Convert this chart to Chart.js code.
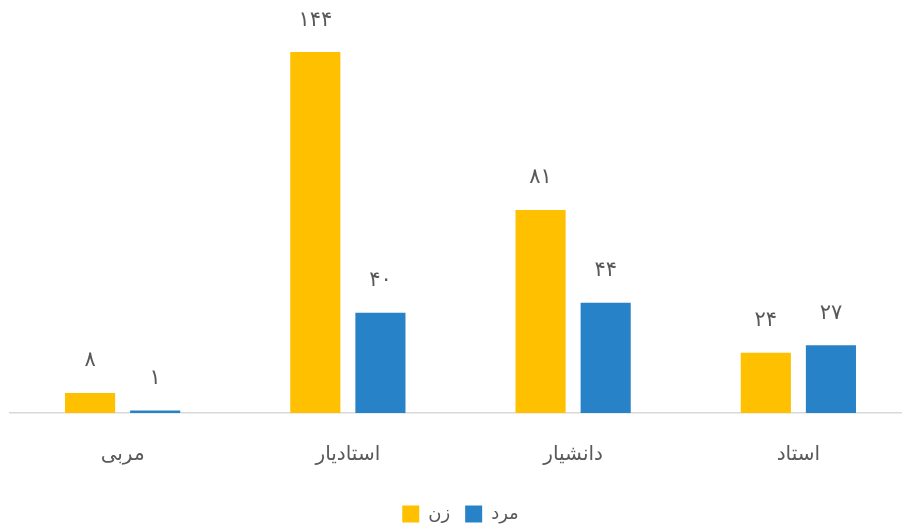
<!DOCTYPE html>
<html>
<head>
<meta charset="utf-8">
<script src="https://cdn.jsdelivr.net/npm/chart.js@4"></script>
<style>
html,body{margin:0;padding:0;overflow:hidden;background:#fff;}
#wrap{width:911px;height:529px;position:relative;}
</style>
</head>
<body>
<div id="wrap"><canvas id="c"></canvas></div>
<script>
const categories = ['مربی', 'استادیار', 'دانشیار', 'استاد'];
const seriesNames = ['زن', 'مرد'];
const womenValues = [8, 144, 81, 24];
const menValues = [1, 40, 44, 27];
const yMax = 160;

const toPersian = n => String(n).replace(/\d/g, d => '۰۱۲۳۴۵۶۷۸۹'[d]);

const FONT = "'DejaVu Sans', 'Noto Sans', sans-serif";
const TEXT = '#595959';

const valueLabels = {
  id: 'valueLabels',
  afterDatasetsDraw(chart) {
    const ctx = chart.ctx;
    ctx.save();
    ctx.font = '21px ' + FONT;
    ctx.fillStyle = TEXT;
    ctx.textAlign = 'center';
    ctx.textBaseline = 'middle';
    chart.data.datasets.forEach((ds, i) => {
      const meta = chart.getDatasetMeta(i);
      meta.data.forEach((bar, j) => {
        ctx.fillText(toPersian(ds.data[j]), bar.x, bar.y - 32);
      });
    });
    ctx.restore();
  }
};

new Chart(document.getElementById('c'), {
  type: 'bar',
  data: {
    labels: categories,
    datasets: [
      { label: seriesNames[0], data: womenValues, backgroundColor: '#FFC000' },
      { label: seriesNames[1], data: menValues, backgroundColor: '#2882C8' }
    ]
  },
  options: {
    responsive: true,
    maintainAspectRatio: false,
    animation: false,
    layout: { padding: { top: 12, left: 10, right: 0, bottom: -4 } },
    datasets: { bar: { categoryPercentage: 0.578, barPercentage: 0.77 } },
    scales: {
      x: {
        grid: { display: false },
        border: { display: true, color: '#D9D9D9', width: 1.5 },
        ticks: { color: TEXT, font: { size: 20, family: FONT }, padding: 22 },
        afterFit(scale) { scale.height = 77; }
      },
      y: {
        display: false,
        min: 0,
        max: yMax
      }
    },
    plugins: {
      tooltip: { enabled: false },
      legend: {
        position: 'bottom',
        labels: {
          color: TEXT,
          font: { size: 18, family: FONT },
          boxWidth: 17,
          boxHeight: 17,
          padding: 15
        }
      }
    }
  },
  plugins: [valueLabels]
});
</script>
</body>
</html>
